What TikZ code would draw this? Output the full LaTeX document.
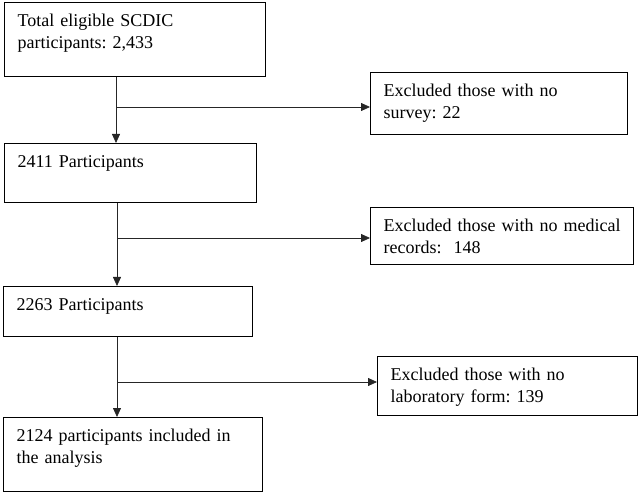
\documentclass[tikz,border=0pt]{standalone}
\usepackage{fontspec}
\setmainfont{Liberation Serif}
\usetikzlibrary{arrows.meta,positioning,calc}
\frenchspacing

\tikzset{
  stage/.style={draw, line width=1.3pt, anchor=north west, align=left,
    inner xsep=13pt, inner ysep=10pt, text height=14pt,
    font=\fontsize{18}{22}\selectfont},
  flow/.style={line width=0.8pt, draw=black!85,
    -{Triangle[length=9pt,width=8pt]}}
}

\begin{document}
\begin{tikzpicture}[x=1pt,y=-1pt]
    \useasboundingbox (0,0) rectangle (640,494);
    % main column
    \node[stage, text width=235pt, text depth=40pt] (total) at (4,2)
      {Total eligible SCDIC\\participants: 2,433};
    \node[stage, text width=226pt, text depth=25pt] (p2411) at (4,143)
      {2411 Participants};
    \node[stage, text width=223pt, text depth=16pt] (p2263) at (3,286)
      {2263 Participants};
    \node[stage, text width=233pt, text depth=40pt] (p2124) at (3,417)
      {2124 participants included in\\the analysis};
    % exclusions
    \node[stage, text width=231pt, text depth=28pt] (exSurvey) at (370,72)
      {Excluded those with no\\survey: 22};
    \node[stage, text width=237pt, text depth=23pt] (exMedical) at (370,207)
      {Excluded those with no medical\\records:\ \ 148};
    \node[stage, text width=234pt, text depth=25pt] (exLab) at (377,356)
      {Excluded those with no\\laboratory form: 139};

    \coordinate (s1) at (116,107);
    \coordinate (s2) at (117,238);
    \coordinate (s3) at (117,382);

    \draw[flow] (total.south -| s1) -- (s1 |- p2411.north);
    \draw[flow] (s1) -- (s1 -| exSurvey.west);

    \draw[flow] (p2411.south -| s2) -- (s2 |- p2263.north);
    \draw[flow] (s2) -- (s2 -| exMedical.west);

    \draw[flow] (p2263.south -| s3) -- (s3 |- p2124.north);
    \draw[flow] (s3) -- (s3 -| exLab.west);
\end{tikzpicture}
\end{document}
